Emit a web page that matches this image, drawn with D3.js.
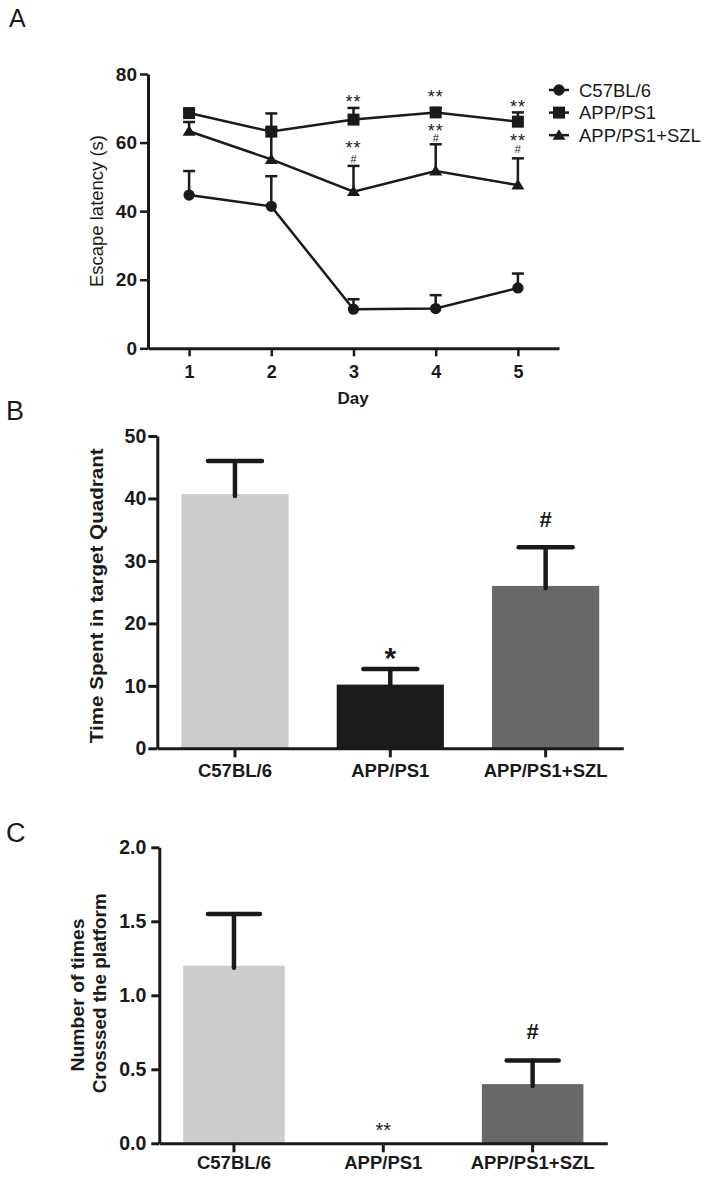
<!DOCTYPE html>
<html><head><meta charset="utf-8">
<script src="https://cdn.jsdelivr.net/npm/d3@7"></script>
<style>
body{margin:0;background:#fff}
svg{display:block}
text{font-family:Arial,"Liberation Sans",Helvetica,sans-serif;fill:#1a1a1a}
</style>
</head><body>
<svg id="chart" width="722" height="1191"></svg>
<script>
// ---------- Panel A data ----------
const days = [1, 2, 3, 4, 5];
const seriesNames = ["C57BL/6", "APP/PS1", "APP/PS1+SZL"];
const c57Mean  = [44.7, 41.4, 11.4, 11.6, 17.6];
const c57Upper = [51.7, 50.2, 14.3, 15.5, 21.8];
const appMean  = [68.6, 63.2, 66.7, 68.8, 66.1];
const appUpper = [69.5, 68.5, 70.1, 70.0, 68.8];
const szlMean  = [63.3, 55.1, 45.7, 51.7, 47.6];
const szlUpper = [66.0, 64.0, 53.2, 59.5, 55.4];
const latencyTicks = [0, 20, 40, 60, 80];
// significance marks: value = level (in s) where the mark is centred
const annotApp = [{day: 3, star: 73.0}, {day: 4, star: 74.5}, {day: 5, star: 71.8}];
const annotSzl = [{day: 3, star: 59.6, hash: 55.3}, {day: 4, star: 64.6, hash: 61.4}, {day: 5, star: 61.7, hash: 58.2}];

// ---------- Panel B data ----------
const groups = ["C57BL/6", "APP/PS1", "APP/PS1+SZL"];
const quadMean  = [40.7, 10.2, 26.0];
const quadUpper = [46.0, 12.7, 32.2];
const quadTicks = [0, 10, 20, 30, 40, 50];
const annotB = [{group: "APP/PS1", value: 15.7, text: "*"}, {group: "APP/PS1+SZL", value: 36.6, text: "#"}];

// ---------- Panel C data ----------
const crossMean  = [1.2, 0, 0.4];
const crossUpper = [1.55, null, 0.56];
const crossTicks = [0, 0.5, 1.0, 1.5, 2.0];
const annotC = [{group: "APP/PS1", value: 0.124, text: "**"}, {group: "APP/PS1+SZL", value: 0.76, text: "#"}];

const barColors = ["#cccccc", "#1c1c1c", "#686868"];
const ink = "#1a1a1a";

const svg = d3.select("#chart");

function styleAxis(g, fs, lw) {
  g.attr("font-size", null).attr("font-family", null);
  g.select(".domain").attr("stroke", ink).attr("stroke-width", 3);
  g.selectAll(".tick line").attr("stroke", ink).attr("stroke-width", lw);
  g.selectAll(".tick text").attr("fill", ink).style("font-size", fs + "px").style("font-weight", "bold");
}

// ================= Panel A =================
const xA = d3.scaleLinear().domain([0.5, 5.5]).range([148, 559]);
const yA = d3.scaleLinear().domain([0, 80]).range([348.3, 74]);

svg.append("text").attr("x", 9).attr("y", 27).style("font-size", "25px").text("A");

const gAy = svg.append("g").attr("transform", `translate(${xA.range()[0]},0)`)
  .call(d3.axisLeft(yA).tickValues(latencyTicks).tickSize(8).tickSizeOuter(0).tickPadding(3));
styleAxis(gAy, 19, 2.5);
const gAx = svg.append("g").attr("transform", `translate(0,${yA(0)})`)
  .call(d3.axisBottom(xA).tickValues(days).tickFormat(d3.format("d")).tickSize(8).tickSizeOuter(0));
styleAxis(gAx, 18, 2.5);
gAx.selectAll(".tick text").attr("y", 29.7).attr("dy", null);

svg.append("text").attr("x", 353).attr("y", 404).attr("text-anchor", "middle")
  .style("font-size", "17px").style("font-weight", "bold").text("Day");
svg.append("text").attr("transform", "translate(103,211) rotate(-90)").attr("text-anchor", "middle")
  .attr("textLength", 152).attr("lengthAdjust", "spacingAndGlyphs")
  .style("font-size", "18.5px").text("Escape latency (s)");

const seriesA = [
  {name: seriesNames[0], mean: c57Mean, upper: c57Upper, shape: "circle"},
  {name: seriesNames[1], mean: appMean, upper: appUpper, shape: "square"},
  {name: seriesNames[2], mean: szlMean, upper: szlUpper, shape: "triangle"}
];
function markerPath(shape) {
  if (shape === "circle") return d3.symbol(d3.symbolCircle, 100)();
  if (shape === "square") return d3.symbol(d3.symbolSquare, 144)();
  return "M-6.5,4.5L6.5,4.5L0,-6Z";
}
const line = d3.line().x((d, i) => xA(days[i])).y(d => yA(d));
seriesA.forEach(s => {
  svg.append("path").attr("d", line(s.mean)).attr("fill", "none").attr("stroke", ink).attr("stroke-width", 2.5);
});
seriesA.forEach(s => {
  const g = svg.append("g");
  days.forEach((d, i) => {
    const cx = xA(d);
    g.append("line").attr("x1", cx).attr("x2", cx).attr("y1", yA(s.mean[i])).attr("y2", yA(s.upper[i]))
      .attr("stroke", ink).attr("stroke-width", 2.5);
    g.append("line").attr("x1", cx - 6).attr("x2", cx + 6).attr("y1", yA(s.upper[i])).attr("y2", yA(s.upper[i]))
      .attr("stroke", ink).attr("stroke-width", 2.5);
  });
});
seriesA.forEach(s => {
  days.forEach((d, i) => {
    svg.append("path").attr("d", markerPath(s.shape))
      .attr("transform", `translate(${xA(d)},${yA(s.mean[i])})`).attr("fill", ink);
  });
});
const starFsA = 18, hashFsA = 11;
annotApp.forEach(a => {
  svg.append("text").attr("x", xA(a.day)).attr("y", yA(a.star) + 0.58 * starFsA)
    .attr("text-anchor", "middle").style("font-size", starFsA + "px").style("letter-spacing", "1px").text("**");
});
annotSzl.forEach(a => {
  const t = svg.append("text").attr("text-anchor", "middle");
  t.append("tspan").attr("x", xA(a.day)).attr("y", yA(a.star) + 0.58 * starFsA)
    .style("font-size", starFsA + "px").style("letter-spacing", "1px").text("**");
  t.append("tspan").attr("x", xA(a.day)).attr("y", yA(a.hash) + 0.35 * hashFsA)
    .style("font-size", hashFsA + "px").text("#");
});
// legend
seriesA.forEach((s, i) => {
  const ly = 90 + i * 22.6;
  svg.append("line").attr("x1", 549).attr("x2", 569).attr("y1", ly).attr("y2", ly).attr("stroke", ink).attr("stroke-width", 2.5);
  svg.append("path").attr("d", markerPath(s.shape)).attr("transform", `translate(559,${ly})`).attr("fill", ink);
  svg.append("text").attr("x", 579).attr("y", ly).attr("dy", "0.36em").style("font-size", "18.5px").text(s.name);
});

// ================= Bar panels =================
function barPanel(opts) {
  const x = d3.scaleBand().domain(groups).range(opts.xr).paddingInner(opts.pin).paddingOuter(opts.pin / 2);
  const y = d3.scaleLinear().domain(opts.ydom).range(opts.yr);
  svg.append("text").attr("x", 6).attr("y", opts.letterY).style("font-size", "27px").text(opts.letter);
  groups.forEach((g, i) => {
    if (opts.mean[i] > 0) {
      svg.append("rect").attr("x", x(g)).attr("width", x.bandwidth())
        .attr("y", y(opts.mean[i])).attr("height", y(0) - y(opts.mean[i])).attr("fill", barColors[i]);
    }
  });
  groups.forEach((g, i) => {
    if (opts.upper[i] == null) return;
    const cx = x(g) + x.bandwidth() / 2;
    svg.append("line").attr("x1", cx).attr("x2", cx).attr("y1", y(opts.mean[i]) + 2).attr("y2", y(opts.upper[i]))
      .attr("stroke", ink).attr("stroke-width", 4.5).attr("stroke-linecap", "round");
    svg.append("line").attr("x1", cx - opts.cap / 2).attr("x2", cx + opts.cap / 2).attr("y1", y(opts.upper[i])).attr("y2", y(opts.upper[i]))
      .attr("stroke", ink).attr("stroke-width", 4.5).attr("stroke-linecap", "round");
  });
  const gy = svg.append("g").attr("transform", `translate(${opts.xr[0]},0)`)
    .call(d3.axisLeft(y).tickValues(opts.ticks).tickSize(opts.tick).tickSizeOuter(0).tickPadding(opts.tpad).tickFormat(opts.fmt));
  styleAxis(gy, 19.5, 3);
  const gx = svg.append("g").attr("transform", `translate(0,${y(0)})`)
    .call(d3.axisBottom(x).tickSize(9).tickSizeOuter(0));
  styleAxis(gx, 18.5, 3);
  gx.selectAll(".tick text").attr("y", opts.labelDy).attr("dy", null);
  opts.annot.forEach(a => {
    const cx = x(a.group) + x.bandwidth() / 2;
    const isHash = a.text === "#";
    const fs = isHash ? 22 : opts.starFs;
    svg.append("text").attr("x", cx).attr("y", y(a.value) + (isHash ? 0.35 : 0.58) * fs)
      .attr("text-anchor", "middle").style("font-size", fs + "px")
      .style("font-weight", isHash || opts.starBold ? "bold" : "normal").text(a.text);
  });
  return {x, y};
}

barPanel({
  letter: "B", letterY: 420,
  xr: [157.3, 623.3], pin: 0.31, ydom: [0, 50], yr: [748.3, 436],
  mean: quadMean, upper: quadUpper, ticks: quadTicks, fmt: d3.format("d"),
  tick: 9, tpad: 2, cap: 54, labelDy: 28.4, annot: annotB, starFs: 30, starBold: true
});
svg.append("text").attr("transform", "translate(103,595.8) rotate(-90)").attr("text-anchor", "middle")
  .attr("textLength", 295).attr("lengthAdjust", "spacingAndGlyphs")
  .style("font-size", "19px").style("font-weight", "bold").text("Time Spent in target Quadrant");

barPanel({
  letter: "C", letterY: 842,
  xr: [159.3, 607.3], pin: 0.32, ydom: [0, 2], yr: [1143.3, 847.3],
  mean: crossMean, upper: crossUpper, ticks: crossTicks, fmt: d3.format(".1f"),
  tick: 8, tpad: 5, cap: 52, labelDy: 26, annot: annotC, starFs: 20, starBold: false
});
svg.append("text").attr("transform", "translate(84,995) rotate(-90)").attr("text-anchor", "middle")
  .attr("textLength", 153).attr("lengthAdjust", "spacingAndGlyphs")
  .style("font-size", "18.5px").style("font-weight", "bold").text("Number of times");
svg.append("text").attr("transform", "translate(106,993.3) rotate(-90)").attr("text-anchor", "middle")
  .attr("textLength", 200).attr("lengthAdjust", "spacingAndGlyphs")
  .style("font-size", "18.5px").style("font-weight", "bold").text("Crosssed the platform");
</script>
</body></html>
